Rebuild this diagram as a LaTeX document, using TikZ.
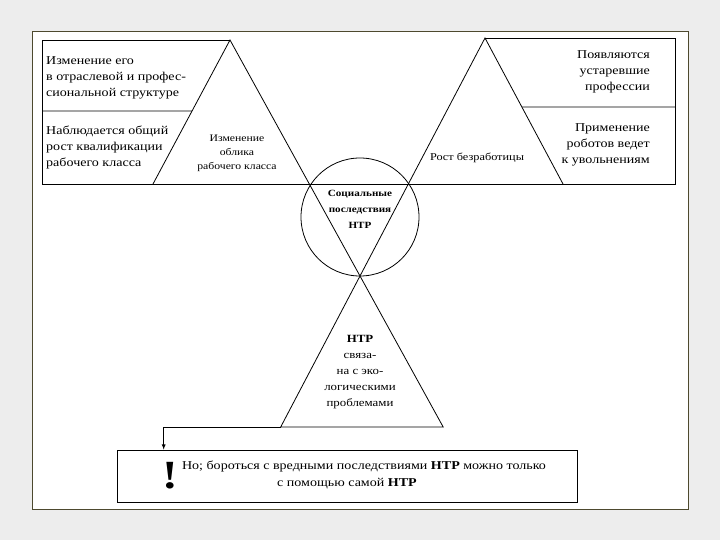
\documentclass[tikz,border=0pt]{standalone}
\usepackage{fontspec}
\setmainfont[FakeStretch=1.17]{Liberation Serif}
\usepackage{tikz}
\usetikzlibrary{calc}

\begin{document}
\begin{tikzpicture}[x=1pt, y=-1pt,
        line/.style={line width=0.8pt, black},
        txt/.style={inner sep=0pt, font=\fontsize{12}{16}\selectfont},
        ctxt/.style={txt, align=center},
        ltxt/.style={txt, align=left, anchor=west},
        rtxt/.style={txt, align=right, anchor=east},
        ]

    \fill [gray!14] (0, 0) rectangle (720, 540);
    \draw [olive!40!black, fill=white] (32, 31) rectangle (688, 509);

    \coordinate (A1) at (230, 40);
    \coordinate (A2) at (485, 38);
    \coordinate (X) at (360, 276);
    \coordinate (L1) at (153, 184);
    \coordinate (R1) at (563, 184);
    \coordinate (B1) at ($(A2)!1.6345!(X)$);
    \coordinate (B2) at ($(A1)!1.6398!(X)$);
    \coordinate (T) at ($(B1) + (-117, 0)$);

    \draw [line] (A1) -- (42, 40) -- (42, 184) -- (675, 184) -- (675, 38) -- (A2);
    \draw [line] ($(A1)!0.493!(L1)$) -- (42, 111);
    \draw [line] ($(A2)!0.473!(R1)$) -- (675, 107);
    \draw [line] (L1) -- (A1) -- (B2) -- (B1) -- (A2) -- (R1);

    \node (C) at (360, 217) [circle, draw, line, minimum size=118pt] {};
    \node (N1) at (347, 476) [draw, line, minimum width=460pt, minimum height=52pt] {};

    \draw [line, -latex] (B1) -- (T) -- (T |- N1.north);

    \node (T1) at (46, 78) [ltxt] {Изменение его\\в отраслевой и профес-\\сиональной структуре};
    \node (T2) at (46, 147) [ltxt] {Наблюдается общий\\рост квалификации\\рабочего класса};
    \node (T3) at (237, 153) [ctxt, font=\fontsize{10}{14}\selectfont] {Изменение\\облика\\рабочего класса};
    \node (T4) at (650, 72) [rtxt] {Появляются\\устаревшие\\профессии};
    \node (T5) at (650, 145) [rtxt] {Применение\\роботов ведет\\к увольнениям};
    \node (T6) at (477, 158) [ctxt, font=\fontsize{10.5}{14}\selectfont] {Рост безработицы};
    \node (T7) at ($(C) + (0, -8)$) [ctxt, font=\fontsize{9.5}{16}\selectfont\bfseries] {Социальные\\последствия\\НТР};
    \node (T8) at (360, 372) [ctxt, font=\fontsize{11}{16}\selectfont] {\textbf{НТР}\\связа-\\на с эко-\\логическими\\проблемами};
    \node (T9) at (170, 476) [txt, font=\fontsize{40}{40}\selectfont\bfseries] {!};
    \node (T10) at (364, 466) [txt] {Но; бороться с вредными последствиями \textbf{НТР} можно только};
    \node (T11) at (347, 484) [txt] {с помощью самой \textbf{НТР}};
\end{tikzpicture}
\end{document}
